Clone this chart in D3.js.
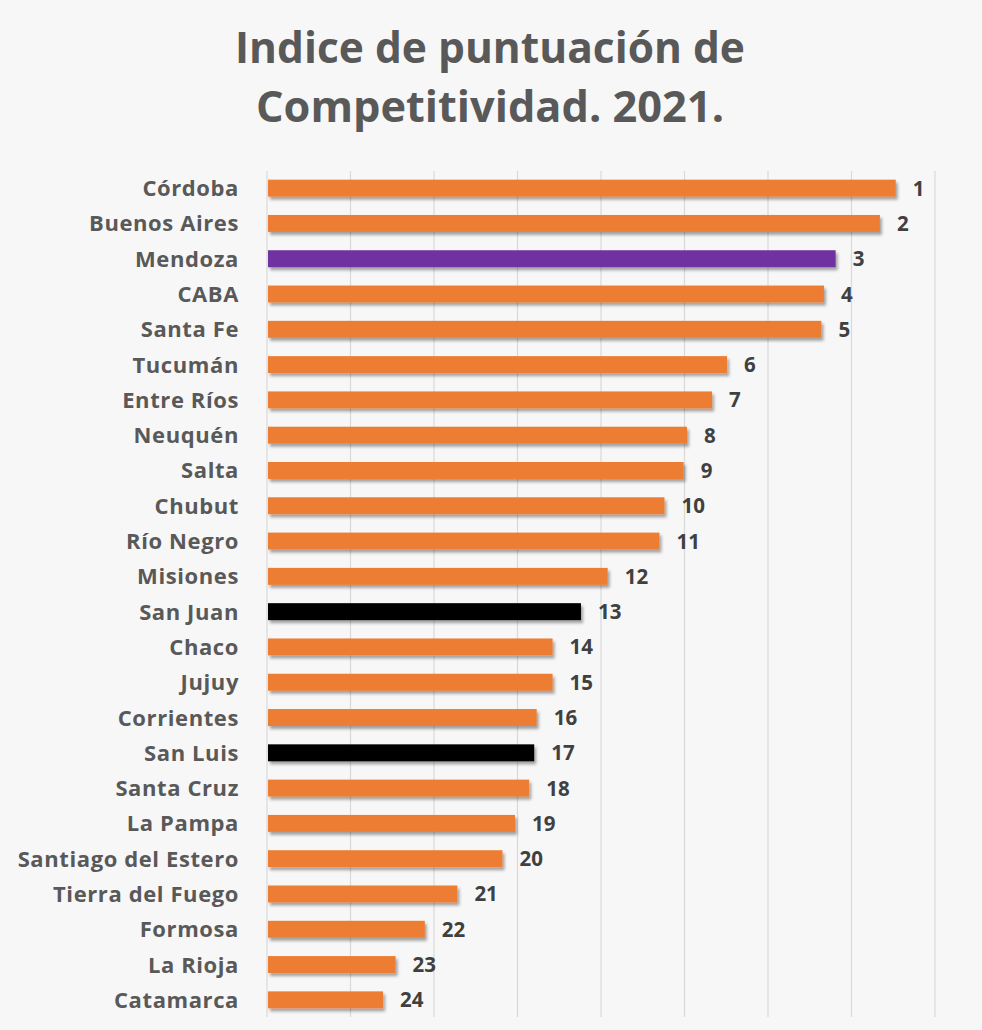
<!DOCTYPE html>
<html><head><meta charset="utf-8">
<script src="https://cdn.jsdelivr.net/npm/d3@7"></script>
<style>
html,body{margin:0;padding:0;background:#f7f7f7;}
svg{display:block;}
</style></head>
<body>
<svg id="chart" width="982" height="1030"></svg>
<script>
const provinces = ["Córdoba","Buenos Aires","Mendoza","CABA","Santa Fe","Tucumán","Entre Ríos","Neuquén","Salta","Chubut","Río Negro","Misiones","San Juan","Chaco","Jujuy","Corrientes","San Luis","Santa Cruz","La Pampa","Santiago del Estero","Tierra del Fuego","Formosa","La Rioja","Catamarca"];
const scores = [7.53,7.34,6.81,6.67,6.64,5.51,5.33,5.03,4.99,4.76,4.70,4.08,3.76,3.42,3.42,3.23,3.20,3.14,2.97,2.82,2.28,1.89,1.54,1.39];
const ranks = [1,2,3,4,5,6,7,8,9,10,11,12,13,14,15,16,17,18,19,20,21,22,23,24];
const highlight = {"Mendoza":"#7030a0","San Juan":"#000000","San Luis":"#000000"};
const gridTicks = [0,1,2,3,4,5,6,7,8];
const titleLines = ["Indice de puntuación de","Competitividad. 2021."];

const svg = d3.select("#chart");
svg.append("rect").attr("width",982).attr("height",1030).attr("fill","#f7f7f7");

const defs = svg.append("defs");
const f = defs.append("filter").attr("id","shadow").attr("x","-5%").attr("y","-40%").attr("width","115%").attr("height","200%");
f.append("feDropShadow").attr("dx",2).attr("dy",3).attr("stdDeviation",1.8).attr("flood-color","#000").attr("flood-opacity",0.35);

const x = d3.scaleLinear().domain([0,8]).range([267,935]);
const y = d3.scaleBand().domain(provinces).range([170.5,1017.5]).paddingInner(0.52).paddingOuter(0.26);

// gridlines
svg.append("g").selectAll("line").data(gridTicks).join("line")
  .attr("x1",d=>x(d)).attr("x2",d=>x(d))
  .attr("y1",171).attr("y2",1017)
  .attr("stroke","#d9d9d9").attr("stroke-width",1.2);

// title
svg.append("g").selectAll("text").data(titleLines).join("text")
  .attr("x",490).attr("y",(d,i)=>63+i*59)
  .attr("text-anchor","middle")
  .attr("font-family","Open Sans, sans-serif").attr("font-weight","bold")
  .attr("font-size",43).attr("fill","#595959")
  .attr("textLength",(d,i)=>i===0?510:468).attr("lengthAdjust","spacingAndGlyphs")
  .text(d=>d);

// bars
svg.append("g").selectAll("rect").data(provinces).join("rect")
  .attr("x",x(0)+1)
  .attr("y",d=>y(d))
  .attr("height",y.bandwidth())
  .attr("width",(d,i)=>x(scores[i])-x(0)-1)
  .attr("fill",d=>highlight[d]||"#ed7d31")
  .attr("filter","url(#shadow)");

// category labels
svg.append("g").selectAll("text").data(provinces).join("text")
  .attr("x",239).attr("y",d=>y(d)+y.bandwidth()/2+8)
  .attr("text-anchor","end")
  .attr("font-family","Open Sans, sans-serif").attr("font-weight","bold")
  .attr("font-size",22).attr("letter-spacing",0.6).attr("fill","#595959")
  .text(d=>d);

// value labels
svg.append("g").selectAll("text").data(provinces).join("text")
  .attr("x",(d,i)=>x(scores[i])+17).attr("y",d=>y(d)+y.bandwidth()/2+7.5)
  .attr("font-family","Open Sans, sans-serif").attr("font-weight","bold")
  .attr("font-size",20.5).attr("fill","#404040")
  .text((d,i)=>ranks[i]);
</script>
</body></html>
